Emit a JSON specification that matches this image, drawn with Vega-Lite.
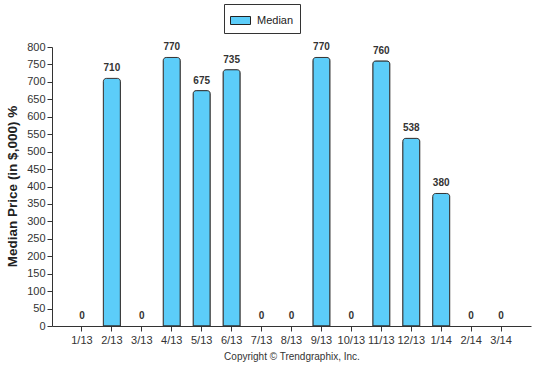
{
  "$schema": "https://vega.github.io/schema/vega-lite/v6.json",
  "width": 479,
  "height": 279,
  "autosize": "none",
  "padding": {"left": 52, "top": 47, "right": 20, "bottom": 54},
  "background": "white",
  "config": {
    "view": {"stroke": null},
    "font": "Liberation Sans"
  },
  "data": {
    "values": [
      {"month": "1/13", "median": 0, "series": "Median"},
      {"month": "2/13", "median": 710, "series": "Median"},
      {"month": "3/13", "median": 0, "series": "Median"},
      {"month": "4/13", "median": 770, "series": "Median"},
      {"month": "5/13", "median": 675, "series": "Median"},
      {"month": "6/13", "median": 735, "series": "Median"},
      {"month": "7/13", "median": 0, "series": "Median"},
      {"month": "8/13", "median": 0, "series": "Median"},
      {"month": "9/13", "median": 770, "series": "Median"},
      {"month": "10/13", "median": 0, "series": "Median"},
      {"month": "11/13", "median": 760, "series": "Median"},
      {"month": "12/13", "median": 538, "series": "Median"},
      {"month": "1/14", "median": 380, "series": "Median"},
      {"month": "2/14", "median": 0, "series": "Median"},
      {"month": "3/14", "median": 0, "series": "Median"}
    ]
  },
  "encoding": {
    "x": {
      "field": "month",
      "type": "nominal",
      "sort": ["1/13", "2/13", "3/13", "4/13", "5/13", "6/13", "7/13", "8/13", "9/13", "10/13", "11/13", "12/13", "1/14", "2/14", "3/14"],
      "scale": {"paddingInner": 0.43, "paddingOuter": 0.715},
      "axis": {
        "title": "Copyright © Trendgraphix, Inc.",
        "titleFont": "Liberation Sans",
        "titleFontSize": 10,
        "titleFontWeight": "normal",
        "titleColor": "#333",
        "titlePadding": 6,
        "labelAngle": 0,
        "labelFontSize": 11,
        "labelColor": "#333",
        "labelPadding": 3,
        "domainColor": "#333",
        "tickColor": "#333",
        "tickSize": 5,
        "grid": false
      }
    },
    "y": {
      "field": "median",
      "type": "quantitative",
      "scale": {"domain": [0, 800], "nice": false},
      "axis": {
        "title": "Median Price (in $,000) %",
        "titleFontSize": 13.5,
        "titleFontWeight": "bold",
        "titleColor": "#222",
        "titleAngle": -90,
        "titleX": -40,
        "titleY": 139,
        "titleAlign": "center",
        "titleBaseline": "middle",
        "values": [0, 50, 100, 150, 200, 250, 300, 350, 400, 450, 500, 550, 600, 650, 700, 750, 800],
        "labelFontSize": 11,
        "labelColor": "#333",
        "labelPadding": 2,
        "domainColor": "#333",
        "tickColor": "#333",
        "tickSize": 5,
        "grid": false
      }
    }
  },
  "layer": [
    {
      "transform": [{"filter": "datum.median > 0"}],
      "mark": {
        "type": "bar",
        "stroke": "#333",
        "strokeWidth": 1,
        "cornerRadiusTopLeft": 3,
        "cornerRadiusTopRight": 3
      },
      "encoding": {
        "color": {
          "field": "series",
          "type": "nominal",
          "scale": {"range": ["#5ccdf9"]},
          "legend": {
            "title": null,
            "orient": "none",
            "legendX": 172,
            "legendY": -43,
            "direction": "horizontal",
            "strokeColor": "#333",
            "fillColor": "white",
            "padding": 6,
            "symbolType": "M-1,-0.4H1V0.4H-1Z",
            "symbolSize": 400,
            "symbolStrokeColor": "#222",
            "symbolStrokeWidth": 1,
            "labelFontSize": 11,
            "labelColor": "#222",
            "labelOffset": 6
          }
        }
      }
    },
    {
      "mark": {"type": "text", "baseline": "bottom", "dy": -5, "fontWeight": "bold", "fontSize": 10, "color": "#333"},
      "encoding": {"text": {"field": "median", "type": "quantitative"}}
    }
  ]
}
